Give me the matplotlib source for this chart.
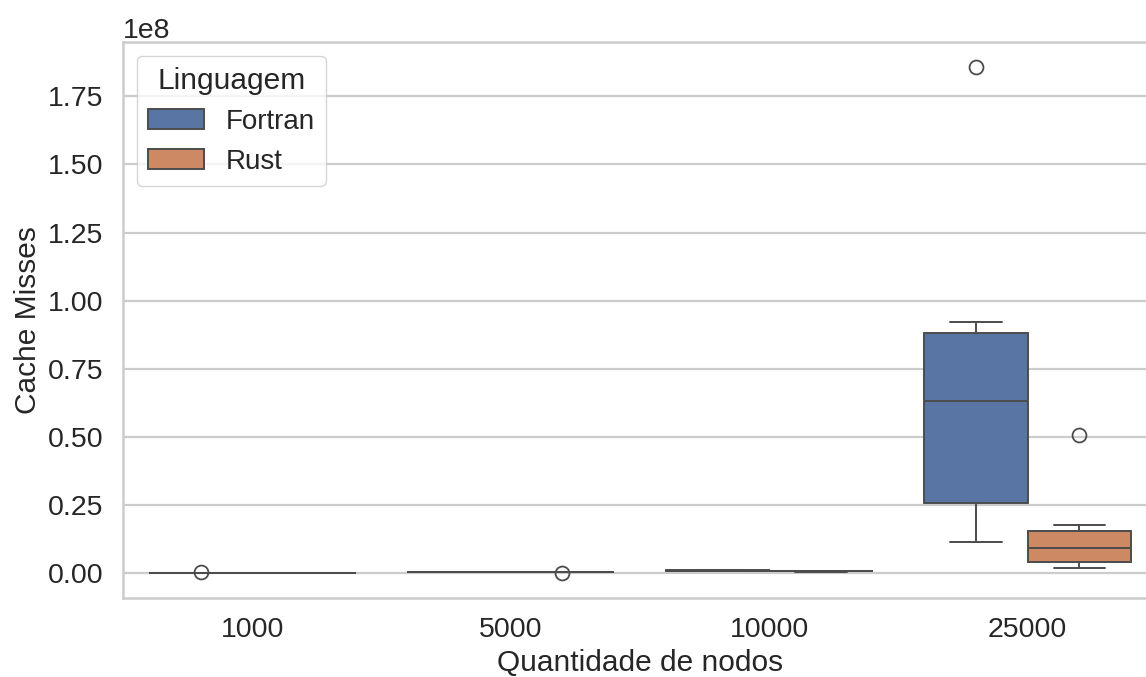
import pandas as pd
import seaborn as sns
import matplotlib
matplotlib.use("Agg")
import matplotlib.pyplot as plt

# cache misses per run
nodes = ["1000", "5000", "10000", "25000"]
langs = ["Fortran", "Rust"]

fortran_1000 = [80e3, 85e3, 90e3, 95e3, 100e3, 105e3, 110e3, 115e3, 260e3]
rust_1000 = [40e3, 45e3, 50e3, 55e3, 60e3, 65e3, 70e3, 75e3, 80e3]
fortran_5000 = [380e3, 390e3, 400e3, 410e3, 420e3, 430e3, 440e3, 450e3, 460e3]
rust_5000 = [100e3, 300e3, 310e3, 320e3, 330e3, 340e3, 350e3, 360e3, 370e3]
fortran_10000 = [760e3, 780e3, 800e3, 820e3, 840e3, 860e3, 880e3, 900e3, 920e3]
rust_10000 = [460e3, 480e3, 500e3, 520e3, 540e3, 560e3, 580e3, 600e3, 620e3]
fortran_25000 = [11.4e6, 18.0e6, 25.7e6, 45.0e6, 63.1e6, 75.0e6, 88.1e6, 92.1e6, 185.7e6]
rust_25000 = [1.8e6, 3.0e6, 4.0e6, 7.0e6, 9.2e6, 12.0e6, 15.4e6, 17.6e6, 50.6e6]

series = {
    ("1000", "Fortran"): fortran_1000, ("1000", "Rust"): rust_1000,
    ("5000", "Fortran"): fortran_5000, ("5000", "Rust"): rust_5000,
    ("10000", "Fortran"): fortran_10000, ("10000", "Rust"): rust_10000,
    ("25000", "Fortran"): fortran_25000, ("25000", "Rust"): rust_25000,
}

rows = []
for (n, lang), vals in series.items():
    for v in vals:
        rows.append({"Nodos": n, "Linguagem": lang, "Cache Misses": v})
df = pd.DataFrame(rows)

sns.set_theme(style="whitegrid")
plt.rcParams["font.family"] = ["Liberation Sans", "DejaVu Sans"]
plt.rcParams["axes.linewidth"] = 1.8
plt.rcParams["grid.linewidth"] = 1.6

fig = plt.figure(figsize=(11.46, 6.77), dpi=100)
ax = fig.add_axes([0.1073, 0.1167, 0.9023, 0.8213])

sns.boxplot(data=df, x="Nodos", y="Cache Misses", hue="Linguagem",
            order=nodes, hue_order=langs, ax=ax, linewidth=1.4,
            flierprops={"markersize": 10, "markeredgewidth": 1.3})

ax.set_xlabel("Quantidade de nodos", fontsize=21.5)
ax.set_ylabel("Cache Misses", fontsize=21.5)
ax.tick_params(axis="both", labelsize=20.5, pad=8)
ax.yaxis.get_offset_text().set_fontsize(20.5)
leg = ax.legend(title="Linguagem", loc="upper left", fontsize=20,
                title_fontsize=21.5)

fig.savefig("out.png", dpi=100)
